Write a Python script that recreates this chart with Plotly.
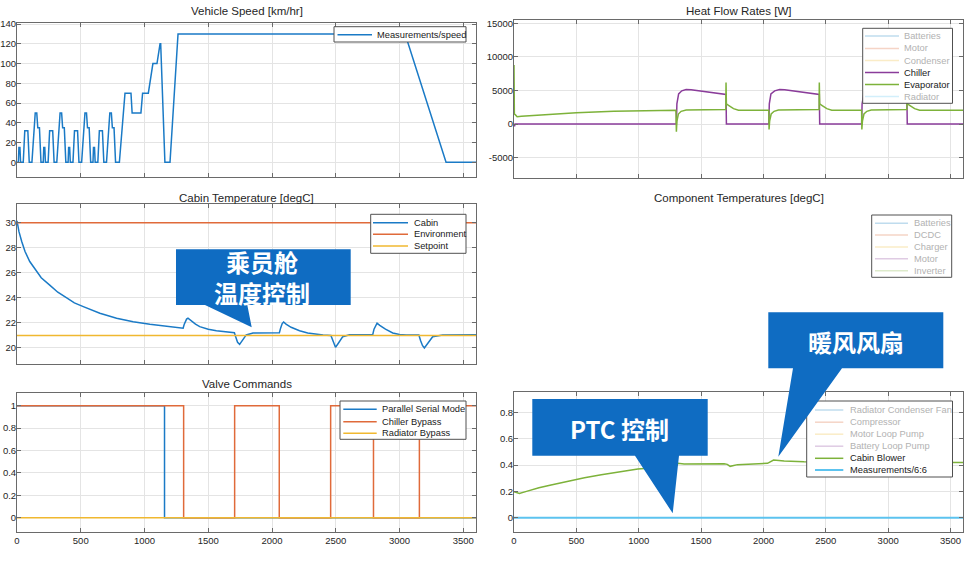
import plotly.graph_objects as go

W, H = 975, 561
FONT = "Liberation Sans, Arial, sans-serif"
CJK = "Noto Sans CJK SC"

# ---------------- data ----------------
TIME_TICKS = [0, 500, 1000, 1500, 2000, 2500, 3000, 3500]

# Vehicle speed (NEDC: 4 x ECE-15 + EUDC, then highway hold)
speed_t = [0, 11, 15, 23, 28, 49, 61, 85, 96, 117, 143, 155, 163, 176, 188,
           195, 206, 210, 218, 223, 244, 256, 280, 291, 312, 338, 350, 358, 371, 383,
           390, 401, 405, 413, 418, 439, 451, 475, 486, 507, 533, 545, 553, 566, 578,
           585, 596, 600, 608, 613, 634, 646, 670, 681, 702, 728, 740, 748, 761, 773,
           780, 803, 847, 894, 903, 972, 985, 1030, 1066, 1098, 1122, 1127, 1160,
           1200, 1263, 3044, 3365, 3600]
speed_v = [0, 0, 15, 15, 0, 0, 32, 32, 0, 0, 50, 50, 35, 35, 0,
           0, 0, 15, 15, 0, 0, 32, 32, 0, 0, 50, 50, 35, 35, 0,
           0, 0, 15, 15, 0, 0, 32, 32, 0, 0, 50, 50, 35, 35, 0,
           0, 0, 15, 15, 0, 0, 32, 32, 0, 0, 50, 50, 35, 35, 0,
           0, 0, 70, 70, 50, 50, 70, 70, 100, 100, 120, 120, 0,
           0, 130, 130, 0, 0]

# Heat flow rates [W]
chiller_t = [0, 4, 8, 1302, 1306, 1320, 1345, 1380, 1420, 1700, 1703,
             2043, 2047, 2060, 2090, 2130, 2170, 2448, 2451,
             2787, 2791, 2805, 2830, 2870, 2910, 3150, 3153, 3600]
chiller_v = [0, -350, 0, 0, 3000, 4500, 4950, 5150, 5100, 4400, 0,
             0, 3000, 4500, 4950, 5150, 5100, 4400, 0,
             0, 3000, 4500, 4950, 5150, 5100, 4400, 0, 0]
evap_t = [0, 3, 10, 25, 60, 232, 500, 800, 1035, 1298,
          1302, 1306, 1318, 1340, 1380, 1500, 1698,
          1700, 1703, 1720, 1760, 1800, 2043,
          2045, 2050, 2062, 2085, 2120, 2250, 2446,
          2448, 2451, 2468, 2508, 2548, 2787,
          2789, 2794, 2806, 2829, 2864, 3000, 3150,
          3152, 3155, 3172, 3212, 3252, 3600]
evap_v = [8800, 1500, 1400, 1100, 1150, 1400, 1700, 1900, 1990, 2040,
          -1150, 400, 1500, 1900, 2080, 2150, 2170,
          6200, 3000, 2800, 2300, 2070, 2070,
          -800, 500, 1500, 1900, 2080, 2150, 2170,
          6200, 3000, 2800, 2300, 2070, 2070,
          -800, 500, 1500, 1900, 2080, 2150, 2170,
          6200, 3000, 2800, 2300, 2070, 2070]

# Cabin temperature [degC]
cabin_t = [0, 15, 37, 63, 100, 128, 190, 259, 320, 390, 450, 520, 650, 781, 911,
           1042, 1172, 1303, 1312, 1330, 1341, 1360, 1400, 1433, 1500, 1564, 1640,
           1705, 1715, 1730, 1746, 1765, 1798, 1851, 2058, 2068, 2080, 2091, 2110,
           2150, 2216, 2280, 2347, 2400, 2462, 2475, 2490, 2498, 2515, 2535, 2555,
           2608, 2790, 2800, 2815, 2824, 2845, 2890, 2947, 3000, 3052, 3152, 3165,
           3180, 3195, 3215, 3240, 3260, 3339, 3600]
cabin_v = [30.15, 29.3, 28.5, 27.7, 26.9, 26.5, 25.6, 25.0, 24.45, 24.0, 23.6, 23.3,
           22.77, 22.37, 22.1, 21.9, 21.73, 21.57, 21.9, 22.3, 22.37, 22.2, 21.9,
           21.7, 21.5, 21.38, 21.28, 21.22, 20.9, 20.45, 20.29, 20.6, 21.04, 21.2,
           21.22, 21.6, 21.95, 22.07, 21.9, 21.65, 21.38, 21.2, 21.1, 21.04, 21.0,
           20.6, 20.15, 20.05, 20.3, 20.65, 20.9, 21.06, 21.06, 21.5, 21.9, 21.98,
           21.8, 21.5, 21.2, 21.08, 21.04, 21.04, 20.6, 20.2, 20.0, 20.3, 20.7,
           20.9, 21.04, 21.05]
env_t = [0, 3600]
env_v = [30, 30]
setpoint_t = [0, 3600]
setpoint_v = [21, 21]

# Valve commands
parallel_t = [0, 1157, 3600]
parallel_v = [1, 0, 0]
chiller_bypass_t = [0, 1307, 1707, 2057, 2460, 2796, 3156, 3600]
chiller_bypass_v = [1, 0, 1, 0, 1, 0, 1, 1]
radiator_bypass_t = [0, 3600]
radiator_bypass_v = [0, 0]

# Pump and compressor commands
blower_t = [0, 20, 43, 100, 200, 297, 430, 565, 700, 833, 993, 1150, 1300, 1315,
            1364, 1684, 1710, 1733, 1760, 1792, 2033, 2060, 2081, 2166, 2326, 2600,
            2900, 3200, 3600]
blower_v = [0.197, 0.19, 0.185, 0.2, 0.228, 0.248, 0.278, 0.304, 0.326, 0.344,
            0.37, 0.382, 0.39, 0.413, 0.408, 0.41, 0.405, 0.39, 0.398, 0.403, 0.413,
            0.43, 0.438, 0.43, 0.425, 0.423, 0.422, 0.421, 0.42]
meas66_t = [0, 3600]
meas66_v = [0, 0]

# Titles and legend labels
TITLES = ["Vehicle Speed [km/hr]", "Heat Flow Rates [W]", "Cabin Temperature [degC]",
          "Component Temperatures [degC]", "Valve Commands", "Pump and Compressor Commands"]
LEG_SPEED = ["Measurements/speed"]
LEG_HEAT = ["Batteries", "Motor", "Condenser", "Chiller", "Evaporator", "Radiator"]
LEG_CABIN = ["Cabin", "Environment", "Setpoint"]
LEG_COMP = ["Batteries", "DCDC", "Charger", "Motor", "Inverter"]
LEG_VALVE = ["Parallel Serial Mode", "Chiller Bypass", "Radiator Bypass"]
LEG_PUMP = ["Radiator Condenser Fan", "Compressor", "Motor Loop Pump",
            "Battery Loop Pump", "Cabin Blower", "Measurements/6:6"]
CALLOUTS = ["乘员舱<br>温度控制", "暖风风扇", "PTC 控制"]

# ---------------- style ----------------
BLUE = "#1a7ac6"
ORANGE = "#e06a3a"
YELLOW = "#f0b830"
PURPLE = "#8a3c9a"
GREEN = "#7db23a"
LBLUE = "#5cc3ef"
F_BLUE = "rgb(191,220,238)"
F_ORANGE = "rgb(245,212,198)"
F_YELLOW = "rgb(250,236,199)"
F_PURPLE = "rgb(223,203,227)"
F_GREEN = "rgb(221,234,203)"
F_LBLUE = "rgb(210,239,251)"
F_TEXT = "rgb(178,178,178)"
AX = "#6a6a6a"
GRID = "#e4e4e4"
CALLOUT_BLUE = "#0f6cc2"


def X(px):
    return px / W


def Y(py):
    return 1 - py / H


fig = go.Figure()

# panel geometry in pixels: (x0, x1, ytop, ybottom)
panels = [
    (17, 476, 22.7, 177.3),
    (514, 963, 20, 178.3),
    (17, 476, 204, 364),
    (514, 963, 205, 364.3),
    (17, 476, 392.7, 531.7),
    (514, 963, 392.3, 531.7),
]
yranges = [[-15.2, 141.4], [-8070, 15490], [18.72, 31.49], [20.48, 44.22],
           [-0.125, 1.116], [-0.106, 0.952]]
yticks = [[0, 20, 40, 60, 80, 100, 120, 140],
          [-5000, 0, 5000, 10000, 15000],
          [20, 22, 24, 26, 28, 30],
          [25, 30, 35, 40],
          [0, 0.2, 0.4, 0.6, 0.8, 1],
          [0, 0.2, 0.4, 0.6, 0.8]]
ytext = [None,
         ["-5000", "0", "5000", "10000", "15000"],
         None, None,
         ["0", "0.2", "0.4", "0.6", "0.8", "1"],
         ["0", "0.2", "0.4", "0.6", "0.8"]]

common = dict(showline=True, linecolor=AX, linewidth=1, mirror="ticks",
              ticks="inside", ticklen=4, tickcolor=AX, showgrid=True,
              gridcolor=GRID, gridwidth=1, zeroline=False, automargin=False,
              exponentformat="none",
              tickfont=dict(family=FONT, size=9.5, color="#262626"))

layout_axes = {}
for i, (x0, x1, yt, yb) in enumerate(panels):
    n = i + 1
    xs = "xaxis" if n == 1 else f"xaxis{n}"
    ys = "yaxis" if n == 1 else f"yaxis{n}"
    layout_axes[xs] = dict(common, domain=[X(x0), X(x1)], range=[0, 3600],
                           tickvals=TIME_TICKS, showticklabels=(n >= 5),
                           anchor="y" if n == 1 else f"y{n}")
    yd = dict(common, domain=[Y(yb), Y(yt)], range=yranges[i], tickvals=yticks[i],
              anchor="x" if n == 1 else f"x{n}", ticklabelstandoff=-2)
    if ytext[i] is not None:
        yd["ticktext"] = ytext[i]
    layout_axes[ys] = yd


def line(t, v, color, ax, width=1.5, shape="linear"):
    n = "" if ax == 1 else str(ax)
    fig.add_trace(go.Scatter(x=t, y=v, mode="lines", line=dict(color=color, width=width, shape=shape),
                             xaxis="x" + n, yaxis="y" + n, showlegend=False, hoverinfo="skip"))


line(speed_t, speed_v, BLUE, 1)
line(chiller_t, chiller_v, PURPLE, 2)
line(evap_t, evap_v, GREEN, 2)
line(cabin_t, cabin_v, BLUE, 3)
line(env_t, env_v, ORANGE, 3)
line(setpoint_t, setpoint_v, YELLOW, 3)
line(parallel_t, parallel_v, BLUE, 5, shape="hv")
line(chiller_bypass_t, chiller_bypass_v, ORANGE, 5, shape="hv")
line(radiator_bypass_t, radiator_bypass_v, YELLOW, 5, shape="hv")
line(blower_t, blower_v, GREEN, 6)
line(meas66_t, meas66_v, LBLUE, 6, width=2)

# bottom-right title as text (sits under the callout pointer)
fig.add_trace(go.Scatter(x=[1800], y=[1.015], mode="text", text=[TITLES[5]],
                         textfont=dict(family=FONT, size=11.5, color="#262626"),
                         xaxis="x6", yaxis="y6", cliponaxis=False,
                         showlegend=False, hoverinfo="skip"))

annotations = []
shapes = []

title_pos = [(246.5, 11), (738.5, 11), (246.5, 197.7), (738.5, 197.7), (246.5, 384)]
for k, (cx, cy) in enumerate(title_pos):
    annotations.append(dict(x=X(cx), y=Y(cy), xref="paper", yref="paper", text=TITLES[k],
                            showarrow=False, xanchor="center", yanchor="middle",
                            font=dict(family=FONT, size=11.5, color="#262626")))


def legend(box, labels, ys, colors, faded, lx0, lx1, tx, widths=None):
    x0, y0, x1, y1 = box
    shapes.append(dict(type="rect", xref="paper", yref="paper", x0=X(x0), x1=X(x1),
                       y0=Y(y1), y1=Y(y0), fillcolor="white",
                       line=dict(color="#505050", width=1), layer="above"))
    for j, lab in enumerate(labels):
        w = widths[j] if widths else 1.5
        shapes.append(dict(type="line", xref="paper", yref="paper", x0=X(lx0), x1=X(lx1),
                           y0=Y(ys[j]), y1=Y(ys[j]), line=dict(color=colors[j], width=w),
                           layer="above"))
        annotations.append(dict(x=X(tx), y=Y(ys[j]), xref="paper", yref="paper", text=lab,
                                showarrow=False, xanchor="left", yanchor="middle",
                                font=dict(family=FONT, size=9.3,
                                          color=F_TEXT if faded[j] else "#1a1a1a")))


legend((334, 26.7, 466, 42), LEG_SPEED, [34.7], [BLUE], [False], 337.5, 372, 375)
legend((862.7, 28.3, 952.5, 103.3), LEG_HEAT, [36, 48.4, 60.6, 72.5, 84.6, 96.6],
       [F_BLUE, F_ORANGE, F_YELLOW, PURPLE, GREEN, F_LBLUE],
       [True, True, True, False, False, True], 865, 899, 902)
legend((370.7, 214.3, 466, 253.3), LEG_CABIN, [222.7, 234.3, 246],
       [BLUE, ORANGE, YELLOW], [False, False, False], 373, 408, 411.5)
legend((871.7, 215, 951.7, 277.3), LEG_COMP, [223.3, 235, 247, 258.7, 270.7],
       [F_BLUE, F_ORANGE, F_YELLOW, F_PURPLE, F_GREEN],
       [True] * 5, 875, 908, 912)
legend((340, 401, 466, 439.3), LEG_VALVE, [409.3, 421.7, 433.3],
       [BLUE, ORANGE, YELLOW], [False] * 3, 343.3, 376.7, 380)
legend((806.7, 401, 952.5, 477), LEG_PUMP, [410, 422.2, 434.2, 446.2, 458.3, 470],
       [F_BLUE, F_ORANGE, F_YELLOW, F_PURPLE, GREEN, LBLUE],
       [True, True, True, True, False, False], 815, 843.3, 847.5,
       widths=[1.5, 1.5, 1.5, 1.5, 1.5, 2])


def P(x, y):
    return f"{X(x):.5f},{Y(y):.5f}"


def callout(rx0, ry0, rx1, ry1, bx0, bx1, tipx, tipy):
    path = ("M" + P(rx0, ry0) + " L" + P(rx1, ry0) + " L" + P(rx1, ry1) + " L" + P(bx1, ry1)
            + " L" + P(tipx, tipy) + " L" + P(bx0, ry1) + " L" + P(rx0, ry1) + " Z")
    shapes.append(dict(type="path", xref="paper", yref="paper", path=path,
                       fillcolor=CALLOUT_BLUE, line=dict(width=0), layer="above"))


callout(176, 249.3, 350.7, 305, 205, 247.3, 251.7, 327.3)
callout(768.3, 312.3, 943.3, 368.3, 793, 842, 778.3, 456.7)
callout(532.3, 399, 707.7, 455.7, 635, 679, 672.7, 513.3)

for txt, cx, cy in [(CALLOUTS[0], 262, 277), (CALLOUTS[1], 856, 341),
                    (CALLOUTS[2], 619, 428)]:
    annotations.append(dict(x=X(cx), y=Y(cy), xref="paper", yref="paper", text=txt,
                            showarrow=False, xanchor="center", yanchor="middle",
                            font=dict(family=CJK, size=24, color="white", weight="bold")))

fig.update_layout(width=W, height=H, margin=dict(l=0, r=0, t=0, b=0),
                  paper_bgcolor="white", plot_bgcolor="white", showlegend=False,
                  shapes=shapes, annotations=annotations, **layout_axes)

fig.write_html("out.html", config={"displayModeBar": False},
               post_script="document.body.style.margin='0';document.body.style.overflow='hidden';")
